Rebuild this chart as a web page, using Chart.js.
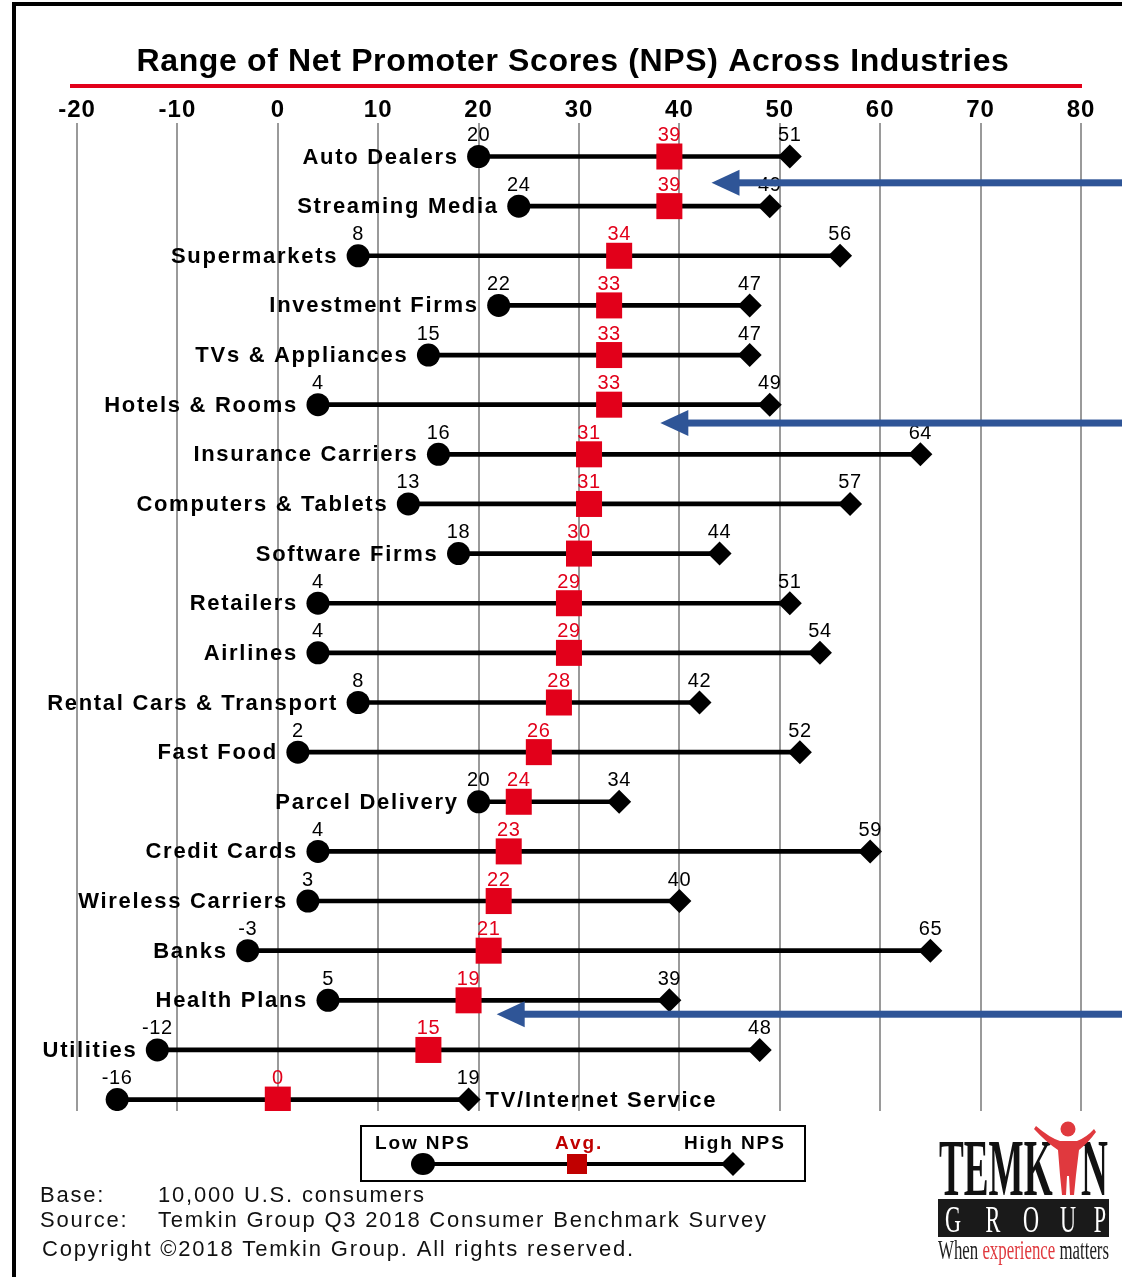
<!DOCTYPE html>
<html>
<head>
<meta charset="utf-8">
<title>Range of Net Promoter Scores (NPS) Across Industries</title>
<script src="https://cdn.jsdelivr.net/npm/chart.js@4.4.1/dist/chart.umd.min.js"></script>
<style>
  html, body { margin: 0; padding: 0; background: #fff; }
  #wrap { position: relative; width: 1122px; height: 1277px; }
  canvas { display: block; }
</style>
</head>
<body>
<div id="wrap"><canvas id="nps" width="1122" height="1277"></canvas></div>
<script>
// Industries, top to bottom, with low / average / high NPS
const industries = [
  'Auto Dealers', 'Streaming Media', 'Supermarkets', 'Investment Firms',
  'TVs & Appliances', 'Hotels & Rooms', 'Insurance Carriers', 'Computers & Tablets',
  'Software Firms', 'Retailers', 'Airlines', 'Rental Cars & Transport',
  'Fast Food', 'Parcel Delivery', 'Credit Cards', 'Wireless Carriers',
  'Banks', 'Health Plans', 'Utilities', 'TV/Internet Service'
];
const lowNps  = [20, 24, 8, 22, 15, 4, 16, 13, 18, 4, 4, 8, 2, 20, 4, 3, -3, 5, -12, -16];
const avgNps  = [39, 39, 34, 33, 33, 33, 31, 31, 30, 29, 29, 28, 26, 24, 23, 22, 21, 19, 15, 0];
const highNps = [51, 49, 56, 47, 47, 49, 64, 57, 44, 51, 54, 42, 52, 34, 59, 40, 65, 39, 48, 19];

// Axis ticks
const xTickValues = [-20, -10, 0, 10, 20, 30, 40, 50, 60, 70, 80];

// Call-out arrows (tip position in NPS units / row units)
const calloutArrows = [
  { x: 43.2, row: 0.53 },
  { x: 38.1, row: 5.37 },
  { x: 21.8, row: 17.28 }
];

const RED = '#E2001A';
const DARK_RED = '#C00000';
const BLUE = '#2F5597';
const SANS = '"Liberation Sans", Arial, Helvetica, sans-serif';
const SERIF = '"Liberation Serif", "Times New Roman", serif';

// Chart.js draws the tick labels; give them the same open tracking as the rest of the text
const trackingPlugin = {
  id: 'tracking',
  beforeDraw(chart) { chart.ctx.letterSpacing = '1px'; },
  afterDraw(chart) { chart.ctx.letterSpacing = '0px'; }
};

// Value labels above each marker and the industry names beside each row
const rowLabelPlugin = {
  id: 'rowLabels',
  afterDatasetsDraw(chart) {
    const ctx = chart.ctx;
    const lowMeta = chart.getDatasetMeta(1);
    const avgMeta = chart.getDatasetMeta(2);
    const highMeta = chart.getDatasetMeta(3);
    ctx.save();
    ctx.textBaseline = 'middle';
    ctx.textAlign = 'center';
    ctx.font = '20px ' + SANS;
    ctx.letterSpacing = '0.6px';
    industries.forEach((name, i) => {
      const lo = lowMeta.data[i], av = avgMeta.data[i], hi = highMeta.data[i];
      ctx.fillStyle = '#000';
      ctx.fillText(String(lowNps[i]), lo.x, lo.y - 21);
      ctx.fillText(String(highNps[i]), hi.x, hi.y - 21);
      ctx.fillStyle = RED;
      ctx.fillText(String(avgNps[i]), av.x, av.y - 21);
    });

    ctx.font = 'bold 22px ' + SANS;
    ctx.letterSpacing = '1.7px';
    ctx.fillStyle = '#000';
    industries.forEach((name, i) => {
      const lo = lowMeta.data[i], hi = highMeta.data[i];
      const w = ctx.measureText(name).width;
      if (lo.x - 20 - w > 25) {
        ctx.textAlign = 'right';
        ctx.fillText(name, lo.x - 20, lo.y + 1);
      } else {
        ctx.textAlign = 'left';
        ctx.fillText(name, hi.x + 17, hi.y + 1);
      }
    });
    ctx.restore();
  }
};

function drawDiamond(ctx, x, y, r) {
  ctx.beginPath();
  ctx.moveTo(x - r, y);
  ctx.lineTo(x, y - r);
  ctx.lineTo(x + r, y);
  ctx.lineTo(x, y + r);
  ctx.closePath();
  ctx.fill();
}

function drawLogo(ctx) {
  ctx.save();
  ctx.textBaseline = 'alphabetic';
  ctx.letterSpacing = '0px';
  // TEMK ... N in tall condensed serif capitals
  ctx.fillStyle = '#111';
  ctx.font = 'bold 80px ' + SERIF;
  const sx = 0.465;
  ctx.save();
  ctx.translate(939, 1195);
  ctx.scale(sx, 1);
  ctx.fillText('TEMK', 0, 0);
  ctx.restore();
  ctx.save();
  ctx.translate(1081, 1195);
  ctx.scale(sx, 1);
  ctx.fillText('N', 0, 0);
  ctx.restore();

  // red figure standing in for the I
  ctx.fillStyle = '#E0393E';
  ctx.beginPath();
  ctx.arc(1068, 1129, 7.5, 0, Math.PI * 2);
  ctx.fill();
  ctx.beginPath();
  ctx.moveTo(1036, 1126);
  ctx.quadraticCurveTo(1050, 1138, 1060, 1141);
  ctx.lineTo(1077, 1141);
  ctx.quadraticCurveTo(1087, 1137, 1094, 1129);
  ctx.lineTo(1096, 1132);
  ctx.quadraticCurveTo(1088, 1143, 1079, 1150);
  ctx.lineTo(1076, 1175);
  ctx.lineTo(1074, 1195);
  ctx.lineTo(1070, 1195);
  ctx.lineTo(1069, 1176);
  ctx.lineTo(1067, 1176);
  ctx.lineTo(1066, 1195);
  ctx.lineTo(1062, 1195);
  ctx.lineTo(1060, 1175);
  ctx.lineTo(1058, 1150);
  ctx.quadraticCurveTo(1046, 1142, 1034, 1129);
  ctx.closePath();
  ctx.fill();

  // GROUP bar
  ctx.fillStyle = '#1a1a1a';
  ctx.fillRect(938, 1199, 171, 38);
  ctx.fillStyle = '#fff';
  ctx.font = '37px ' + SERIF;
  const groupCentres = [953, 993, 1031, 1068, 1100];
  'GROUP'.split('').forEach((ch, k) => {
    ctx.save();
    ctx.translate(groupCentres[k], 1232);
    ctx.scale(0.6, 1);
    ctx.textAlign = 'center';
    ctx.fillText(ch, 0, 0);
    ctx.restore();
  });

  // tagline
  ctx.font = '27px ' + SERIF;
  const parts = [['When ', '#222'], ['experience', '#E0393E'], [' matters', '#222']];
  const total = parts.reduce((s, p) => s + ctx.measureText(p[0]).width, 0);
  const tx = 171 / total;
  ctx.save();
  ctx.translate(938, 1259);
  ctx.scale(tx, 1);
  let cx = 0;
  parts.forEach(([t, c]) => {
    ctx.fillStyle = c;
    ctx.fillText(t, cx, 0);
    cx += ctx.measureText(t).width;
  });
  ctx.restore();
  ctx.restore();
}

// Frame, title, call-out arrows, key, source notes and logo
const decorationPlugin = {
  id: 'decorations',
  afterDraw(chart) {
    const ctx = chart.ctx;
    const xs = chart.scales.x, ys = chart.scales.y;
    ctx.save();
    ctx.letterSpacing = '0px';

    // outer frame
    ctx.strokeStyle = '#000';
    ctx.lineWidth = 4;
    ctx.beginPath();
    ctx.moveTo(14, 1277);
    ctx.lineTo(14, 4);
    ctx.lineTo(1122, 4);
    ctx.stroke();

    // title with red rule
    ctx.fillStyle = '#000';
    ctx.font = 'bold 32px ' + SANS;
    ctx.letterSpacing = '0.65px';
    ctx.textAlign = 'center';
    ctx.textBaseline = 'middle';
    ctx.fillText('Range of Net Promoter Scores (NPS) Across Industries', 573, 62);
    ctx.strokeStyle = RED;
    ctx.lineWidth = 4;
    ctx.beginPath();
    ctx.moveTo(70, 86);
    ctx.lineTo(1082, 86);
    ctx.stroke();

    // call-out arrows
    ctx.fillStyle = BLUE;
    calloutArrows.forEach(a => {
      const tipX = xs.getPixelForValue(a.x);
      const y = ys.getPixelForValue(a.row);
      ctx.fillRect(tipX + 26, y - 3.5, chart.width - tipX - 26, 7);
      ctx.beginPath();
      ctx.moveTo(tipX, y);
      ctx.lineTo(tipX + 28, y - 13);
      ctx.lineTo(tipX + 28, y + 13);
      ctx.closePath();
      ctx.fill();
    });

    // key
    ctx.strokeStyle = '#000';
    ctx.lineWidth = 2;
    ctx.strokeRect(361, 1126, 444, 55);
    ctx.font = 'bold 19px ' + SANS;
    ctx.letterSpacing = '1.9px';
    ctx.textAlign = 'left';
    ctx.fillStyle = '#000';
    ctx.fillText('Low NPS', 375, 1144);
    ctx.fillText('High NPS', 684, 1144);
    ctx.fillStyle = DARK_RED;
    ctx.fillText('Avg.', 555, 1144);
    ctx.fillStyle = '#000';
    ctx.fillRect(423, 1162, 310, 4);
    ctx.beginPath();
    ctx.ellipse(423, 1164, 12, 11, 0, 0, Math.PI * 2);
    ctx.fill();
    drawDiamond(ctx, 733, 1164, 12);
    ctx.fillStyle = DARK_RED;
    ctx.fillRect(567, 1154, 20, 20);

    // notes
    ctx.fillStyle = '#111';
    ctx.font = '22px ' + SANS;
    ctx.letterSpacing = '1.8px';
    ctx.textAlign = 'left';
    ctx.fillText('Base:', 40, 1196);
    ctx.fillText('10,000 U.S. consumers', 158, 1196);
    ctx.fillText('Source:', 40, 1221);
    ctx.fillText('Temkin Group Q3 2018 Consumer Benchmark Survey', 158, 1221);
    ctx.fillText('Copyright \u00A92018 Temkin Group. All rights reserved.', 42, 1250);

    drawLogo(ctx);
    ctx.restore();
  }
};

const rows = industries.map((_, i) => i);

new Chart(document.getElementById('nps'), {
  type: 'scatter',
  data: {
    datasets: [
      {
        type: 'bar',
        label: 'Range',
        indexAxis: 'y',
        data: rows.map(i => ({ x: [lowNps[i], highNps[i]], y: i })),
        backgroundColor: '#000',
        barThickness: 4,
        order: 4
      },
      {
        label: 'Low NPS',
        data: rows.map(i => ({ x: lowNps[i], y: i })),
        pointStyle: 'circle',
        pointRadius: 11.5,
        backgroundColor: '#000',
        borderWidth: 0,
        order: 3
      },
      {
        label: 'Avg.',
        data: rows.map(i => ({ x: avgNps[i], y: i })),
        pointStyle: 'rect',
        pointRadius: 18.4,
        backgroundColor: RED,
        borderWidth: 0,
        order: 1
      },
      {
        label: 'High NPS',
        data: rows.map(i => ({ x: highNps[i], y: i })),
        pointStyle: 'rectRot',
        pointRadius: 12,
        backgroundColor: '#000',
        borderWidth: 0,
        order: 2
      }
    ]
  },
  options: {
    responsive: false,
    animation: false,
    devicePixelRatio: 1,
    events: [],
    layout: { padding: { left: 77, right: 41, top: 0, bottom: 166 } },
    plugins: {
      legend: { display: false },
      tooltip: { enabled: false },
      title: { display: false }
    },
    scales: {
      x: {
        type: 'linear',
        position: 'top',
        min: xTickValues[0],
        max: xTickValues[xTickValues.length - 1],
        afterBuildTicks: scale => { scale.ticks = xTickValues.map(v => ({ value: v })); },
        afterFit: scale => { scale.height = 123; },
        ticks: {
          autoSkip: false,
          maxRotation: 0,
          padding: -2,
          color: '#000',
          font: { family: SANS, size: 24, weight: 'bold' }
        },
        grid: { color: '#9a9a9a', lineWidth: 2, drawTicks: false },
        border: { display: false }
      },
      y: {
        type: 'linear',
        display: false,
        reverse: true,
        offset: false,
        min: -0.675,
        max: 19.23,
        grid: { display: false, offset: false }
      }
    }
  },
  plugins: [trackingPlugin, rowLabelPlugin, decorationPlugin]
});
</script>
</body>
</html>
